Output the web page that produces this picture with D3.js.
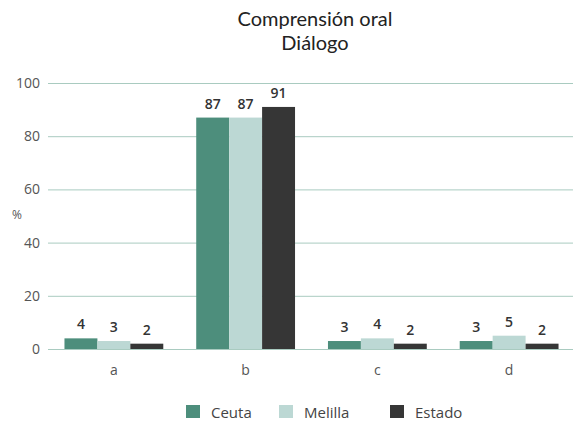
<!DOCTYPE html>
<html><head><meta charset="utf-8">
<script src="https://cdn.jsdelivr.net/npm/d3@7"></script>
<style>body{margin:0;background:#fff}svg{display:block}</style>
</head><body>
<script>
const categories = ["a","b","c","d"];
const seriesNames = ["Ceuta","Melilla","Estado"];
const ceuta = [4,87,3,3];
const melilla = [3,87,4,5];
const estado = [2,91,2,2];
const yTicks = [0,20,40,60,80,100];
const titleLines = ["Comprensión oral","Diálogo"];
const colors = ["#4d8e7c","#bcd8d4","#363636"];

const W=573,H=421;
const font = "'Open Sans', sans-serif";
const svg = d3.select("body").append("svg").attr("width",W).attr("height",H);
const series = [ceuta, melilla, estado];

const x = d3.scaleBand().domain(categories).range([48,575]).paddingInner(0.25).paddingOuter(0.125);
const xs = d3.scaleBand().domain(seriesNames).range([0,x.bandwidth()]);
const y = d3.scaleLinear().domain([0,100]).range([349,83]);

// grid
const yAxis = d3.axisLeft(y).tickValues(yTicks).tickSize(-(573-48)).tickPadding(8);
const gy = svg.append("g").attr("transform","translate(48,0)").call(yAxis);
gy.select(".domain").remove();
gy.selectAll(".tick line").attr("stroke","#a9cbc0").attr("stroke-width",1);
gy.selectAll(".tick text").attr("font-family",font).attr("font-size",14).attr("fill","#555").attr("x",-8);

svg.append("text").attr("x",17).attr("y",219).attr("text-anchor","middle")
  .attr("font-family",font).attr("font-size",12).attr("fill","#555").text("%");

// bars
const g = svg.append("g");
categories.forEach((c,i)=>{
  seriesNames.forEach((s,j)=>{
    const v = series[j][i];
    g.append("rect").attr("x",x(c)+xs(s)).attr("width",xs.bandwidth())
      .attr("y",y(v)).attr("height",y(0)-y(v)).attr("fill",colors[j]);
    g.append("text").attr("x",x(c)+xs(s)+xs.bandwidth()/2).attr("y",y(v)-9)
      .attr("text-anchor","middle").attr("font-family",font).attr("font-size",14)
      .attr("font-weight","600").attr("fill","#333").text(v);
  });
});

// x axis labels
const xAxis = d3.axisBottom(x).tickSize(0).tickPadding(16);
const gx = svg.append("g").attr("transform","translate(0,349)").call(xAxis);
gx.select(".domain").remove();
gx.selectAll(".tick text").attr("font-family",font).attr("font-size",14).attr("fill","#555");

// title
titleLines.forEach((t,i)=>{
  svg.append("text").attr("x",315).attr("y",26+i*24).attr("text-anchor","middle")
    .attr("font-family","Lato, sans-serif").attr("font-size",20).attr("fill","#222").text(t);
});

// legend
const legX = [186,279,390];
seriesNames.forEach((s,j)=>{
  svg.append("rect").attr("x",legX[j]).attr("y",405).attr("width",14).attr("height",13).attr("fill",colors[j]);
  svg.append("text").attr("x",legX[j]+25).attr("y",418).attr("font-family",font)
    .attr("font-size",15).attr("fill","#444").text(s);
});
</script>
</body></html>
